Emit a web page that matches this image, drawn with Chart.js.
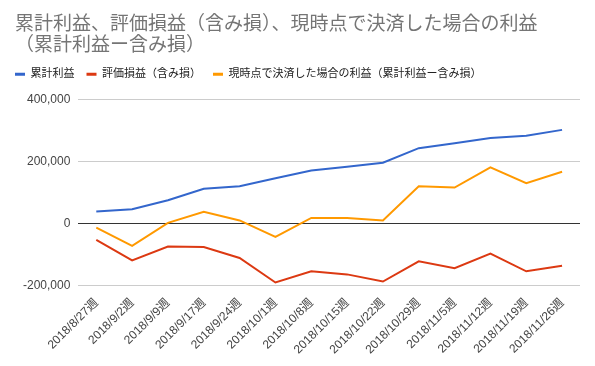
<!DOCTYPE html>
<html>
<head>
<meta charset="utf-8">
<script src="https://cdn.jsdelivr.net/npm/chart.js@4"></script>
<style>
  html, body { margin: 0; padding: 0; background: #fff; }
  #wrap { width: 595px; height: 366px; }
</style>
</head>
<body>
<div id="wrap"><canvas id="myChart" width="595" height="366"></canvas></div>
<script>
// weekly labels
let weeks = ['2018/8/27週', '2018/9/2週', '2018/9/9週', '2018/9/17週', '2018/9/24週', '2018/10/1週', '2018/10/8週',
  '2018/10/15週', '2018/10/22週', '2018/10/29週', '2018/11/5週', '2018/11/12週', '2018/11/19週', '2018/11/26週'];

let cumulative = [40000, 47000, 76000, 113000, 121000, 147000, 172000, 184000, 197000, 244000, 260000, 277000, 284000, 303000];
let unrealized = [-52000, -118000, -73000, -75000, -110000, -189000, -153000, -163000, -186000, -121000, -143000, -96000, -153000, -135000];
let ifClosedNow = [-12000, -71000, 3000, 39000, 11000, -42000, 19000, 19000, 11000, 121000, 117000, 182000, 131000, 168000];

let yTicks = [-200000, 0, 200000, 400000];

let seriesNames = ['累計利益', '評価損益（含み損）', '現時点で決済した場合の利益（累計利益ー含み損）'];
let colors = ['#3366cc', '#dc3912', '#ff9900'];

let fontFam = "'Liberation Sans', Arial, 'Noto Sans CJK JP', sans-serif";

let mkSet = (label, data, color) => ({
  label: label,
  data: data,
  borderColor: color,
  backgroundColor: color,
  borderWidth: 2,
  pointRadius: 0,
  pointHoverRadius: 0,
  tension: 0,
  fill: false
});

// legend: extra room underneath, and pulled a bit to the left
let legendTweak = {
  id: 'legendTweak',
  beforeInit: (chart) => {
    let orig = chart.legend.fit;
    chart.legend.fit = function () {
      orig.bind(chart.legend)();
      this.height += 10;
    };
  },
  afterLayout: (chart) => {
    chart.legend.left -= 12;
    chart.legend.right -= 12;
  }
};

new Chart(document.getElementById('myChart'), {
  type: 'line',
  data: {
    labels: weeks,
    datasets: [
      mkSet(seriesNames[0], cumulative, colors[0]),
      mkSet(seriesNames[1], unrealized, colors[1]),
      mkSet(seriesNames[2], ifClosedNow, colors[2])
    ]
  },
  plugins: [legendTweak],
  options: {
    responsive: false,
    animation: false,
    events: [],
    layout: { padding: { left: 15, right: 15, top: 14, bottom: 7 } },
    plugins: {
      title: {
        display: true,
        text: ['累計利益、評価損益（含み損）、現時点で決済した場合の利益', '（累計利益ー含み損）'],
        align: 'start',
        color: '#757575',
        font: { family: fontFam, size: 19, weight: 'normal', lineHeight: 1.1 },
        padding: { top: 0, bottom: 1 }
      },
      legend: {
        display: true,
        align: 'start',
        labels: {
          color: '#222',
          font: { family: fontFam, size: 11 },
          boxWidth: 10,
          boxHeight: 3,
          padding: 12,
          generateLabels: (chart) => {
            let items = Chart.defaults.plugins.legend.labels.generateLabels(chart);
            items.forEach((it) => { it.lineWidth = 0; });
            return items;
          }
        }
      },
      tooltip: { enabled: false }
    },
    scales: {
      x: {
        offset: true,
        grid: { display: false },
        border: { display: false },
        ticks: {
          color: '#444',
          font: { family: fontFam, size: 12 },
          minRotation: 45,
          maxRotation: 45,
          autoSkip: false,
          padding: 2
        }
      },
      y: {
        min: -200000,
        max: 400000,
        afterBuildTicks: (axis) => { axis.ticks = yTicks.map((v) => ({ value: v })); },
        grid: {
          color: (ctx) => (ctx.tick && ctx.tick.value === 0 ? '#333' : '#ccc'),
          lineWidth: 1,
          drawTicks: false
        },
        border: { display: false },
        ticks: {
          color: '#444',
          font: { family: fontFam, size: 12 },
          padding: 8,
          callback: (v) => v.toLocaleString('en-US')
        }
      }
    }
  }
});
</script>
</body>
</html>
